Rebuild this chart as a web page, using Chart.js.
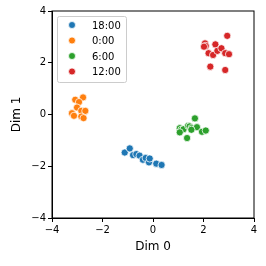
<!DOCTYPE html>
<html>
<head>
<meta charset="UTF-8">
<script src="https://cdn.jsdelivr.net/npm/chart.js"></script>
<style>
  html, body { margin: 0; padding: 0; background: #fff; }
  #wrap { width: 266px; height: 266px; }
</style>
</head>
<body>
<div id="wrap"><canvas id="c" width="266" height="266"></canvas></div>
<script>
const labels = ['18:00', '0:00', '6:00', '12:00'];
const colors = ['#1f77b4', '#ff7f0e', '#2ca02c', '#d62728'];

const blueX = [-1.12, -0.92, -0.79, -0.66, -0.53, -0.40, -0.29, -0.16, -0.13, 0.13, 0.34];
const blueY = [-1.47, -1.31, -1.57, -1.53, -1.59, -1.75, -1.68, -1.85, -1.70, -1.90, -1.95];
const orangeX = [-3.08, -2.77, -2.93, -3.01, -2.84, -2.68, -3.21, -3.13, -2.84, -2.75];
const orangeY = [0.57, 0.66, 0.48, 0.27, 0.14, 0.14, 0.05, -0.05, -0.08, -0.14];
const greenX = [1.66, 1.06, 1.12, 1.21, 1.39, 1.45, 1.52, 1.74, 1.06, 1.35, 1.94, 2.09, 1.52];
const greenY = [-0.15, -0.53, -0.59, -0.57, -0.44, -0.46, -0.53, -0.49, -0.69, -0.91, -0.67, -0.62, -0.59];
const redX = [2.06, 2.09, 2.02, 2.20, 2.27, 2.38, 2.47, 2.55, 2.71, 2.94, 2.86, 3.01, 2.86];
const redY = [2.75, 2.65, 2.62, 2.37, 1.85, 2.30, 2.71, 2.46, 2.56, 3.04, 2.37, 2.33, 1.72];
const ticks = [-4, -2, 0, 2, 4];

const xs = [blueX, orangeX, greenX, redX];
const ys = [blueY, orangeY, greenY, redY];

const fmt = v => (v < 0 ? '\u2212' + Math.abs(v) : '' + v);
const font = 'DejaVu Sans';

// frame + legend drawn like matplotlib
const boxPlugin = {
  id: 'box',
  afterDraw(chart) {
    const { ctx, chartArea: a } = chart;
    ctx.save();
    ctx.strokeStyle = '#000';
    ctx.lineWidth = 1;
    ctx.strokeRect(a.left, a.top, a.right - a.left, a.bottom - a.top);

    // legend
    const lx = a.left + 5, ly = a.top + 5, w = 69, h = 66;
    ctx.fillStyle = 'rgba(255,255,255,0.8)';
    ctx.strokeStyle = '#ccc';
    ctx.lineWidth = 1;
    ctx.beginPath();
    ctx.roundRect(lx + 0.5, ly + 0.5, w, h, 2);
    ctx.fill();
    ctx.stroke();
    ctx.font = '10px ' + font;
    ctx.textBaseline = 'middle';
    labels.forEach((l, i) => {
      const cy = ly + 9 + i * 15.5;
      ctx.beginPath();
      ctx.arc(lx + 15, cy, 3.5, 0, Math.PI * 2);
      ctx.fillStyle = colors[i];
      ctx.fill();
      ctx.strokeStyle = '#fff';
      ctx.lineWidth = 0.75;
      ctx.stroke();
      ctx.fillStyle = '#000';
      ctx.fillText(l, lx + 35, cy + 1);
    });
    ctx.restore();
  }
};

new Chart(document.getElementById('c'), {
  type: 'scatter',
  data: {
    datasets: labels.map((l, i) => ({
      label: l,
      data: xs[i].map((x, j) => ({ x: x, y: ys[i][j] })),
      backgroundColor: colors[i],
      borderColor: '#fff',
      borderWidth: 0.75,
      pointRadius: 3.6
    }))
  },
  options: {
    responsive: false,
    animation: false,
    layout: { padding: { top: 11, right: 12, bottom: 12, left: 10 } },
    plugins: { legend: { display: false }, tooltip: { enabled: false } },
    scales: {
      x: {
        min: -4, max: 4,
        afterBuildTicks: s => { s.ticks = ticks.map(v => ({ value: v })); },
        afterFit: s => { s.height = 36; },
        grid: { drawOnChartArea: false, tickLength: 4, color: '#000' },
        border: { color: '#000' },
        ticks: { color: '#000', font: { family: font, size: 10 }, padding: 2, maxRotation: 0, callback: v => fmt(v) },
        title: { display: true, text: 'Dim 0', color: '#000', font: { family: font, size: 12 }, padding: 0 }
      },
      y: {
        min: -4, max: 4,
        afterBuildTicks: s => { s.ticks = ticks.map(v => ({ value: v })); },
        afterFit: s => { s.width = 42; },
        grid: { drawOnChartArea: false, tickLength: 4, color: '#000' },
        border: { color: '#000' },
        ticks: { color: '#000', font: { family: font, size: 10 }, padding: 2, callback: v => fmt(v) },
        title: { display: true, text: 'Dim 1', color: '#000', font: { family: font, size: 12 }, padding: 0 }
      }
    }
  },
  plugins: [boxPlugin]
});
</script>
</body>
</html>
